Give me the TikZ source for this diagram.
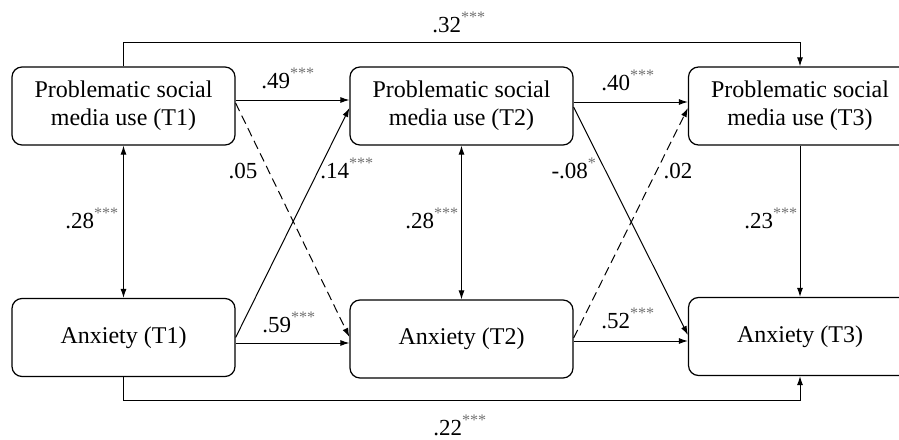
\documentclass[tikz,border=0pt]{standalone}
\usepackage{fontspec}
\setmainfont{Liberation Serif}
\usetikzlibrary{arrows.meta}
\newcommand\sg[1]{\textsuperscript{\color{black!55}#1}}
\begin{document}
\begin{tikzpicture}[x=1pt,y=-1pt,
  box/.style={draw, line width=1.2pt, rounded corners=10pt, minimum width=223pt, align=center, font=\fontsize{24}{28}\selectfont},
  tall/.style={minimum height=78pt},
  conn/.style={line width=1pt, -{Latex[length=9pt,width=6pt]}},
  both/.style={line width=1pt, {Latex[length=9pt,width=6pt]}-{Latex[length=9pt,width=6pt]}},
  dsh/.style={dash pattern=on 9pt off 5pt},
  lab/.style={anchor=base, inner sep=0pt, font=\fontsize{23}{24}\selectfont}]
\useasboundingbox (0,0) rectangle (899,439);
\clip (0,0) rectangle (899,439);
\fill[white] (0,0) rectangle (899,439);
\node[box, tall] (p1) at (123.5,106) {Problematic social\\media use (T1)};
\node[box, tall] (p2) at (461.5,106) {Problematic social\\media use (T2)};
\node[box, tall] (p3) at (800,106) {Problematic social\\media use (T3)};
\node[box, tall] (a1) at (123.5,337.5) {Anxiety (T1)};
\node[box, tall] (a2) at (461.5,339) {Anxiety (T2)};
\node[box, tall] (a3) at (800,336.5) {Anxiety (T3)};
\coordinate (tl) at (123.5,42);
\coordinate (bl) at (123.5,400);
% top and bottom paths
\draw[conn] (p1.north) -- (tl) -| (p3.north);
\draw[conn] (a1.south) -- (bl) -| (a3.south);
% verticals
\draw[both] (p1.south) -- (a1.north);
\draw[both] (p2.south) -- (a2.north);
\draw[conn] (p3.south) -- (a3.north);
% horizontals
\draw[conn] ([yshift=6pt]p1.east) -- ([yshift=6pt]p2.west);
\draw[conn] ([yshift=4pt]p2.east) -- ([yshift=4pt]p3.west);
\draw[conn] ([yshift=-5.5pt]a1.east) -- ([yshift=-4pt]a2.west);
\draw[conn] ([yshift=-2pt]a2.east) -- ([yshift=-4.5pt]a3.west);
% diagonals
\draw[conn, dsh] ([yshift=3pt]p1.east) -- ([yshift=2pt]a2.west);
\draw[conn] ([yshift=0pt]a1.east) -- ([yshift=-2pt]p2.west);
\draw[conn] ([yshift=-1pt]p2.east) -- ([yshift=1.5pt]a3.west);
\draw[conn, dsh] ([yshift=1pt]a2.east) -- ([yshift=-2pt]p3.west);
% labels
\node[lab] (l32) at (459,32) {.32\sg{***}};
\node[lab] (l49) at (288,88) {.49\sg{***}};
\node[lab] (l40) at (628,90) {.40\sg{***}};
\node[lab] (l05) at (243,178) {.05};
\node[lab] (l14) at (347,178) {.14\sg{***}};
\node[lab] (l08) at (574,178) {-.08\sg{*}};
\node[lab] (l02) at (678,178) {.02};
\node[lab] (l28a) at (92,228) {.28\sg{***}};
\node[lab] (l28b) at (432,228) {.28\sg{***}};
\node[lab] (l23) at (771,228) {.23\sg{***}};
\node[lab] (l59) at (289,332) {.59\sg{***}};
\node[lab] (l52) at (628,328) {.52\sg{***}};
\node[lab] (l22) at (460,435) {.22\sg{***}};
\end{tikzpicture}
\end{document}
